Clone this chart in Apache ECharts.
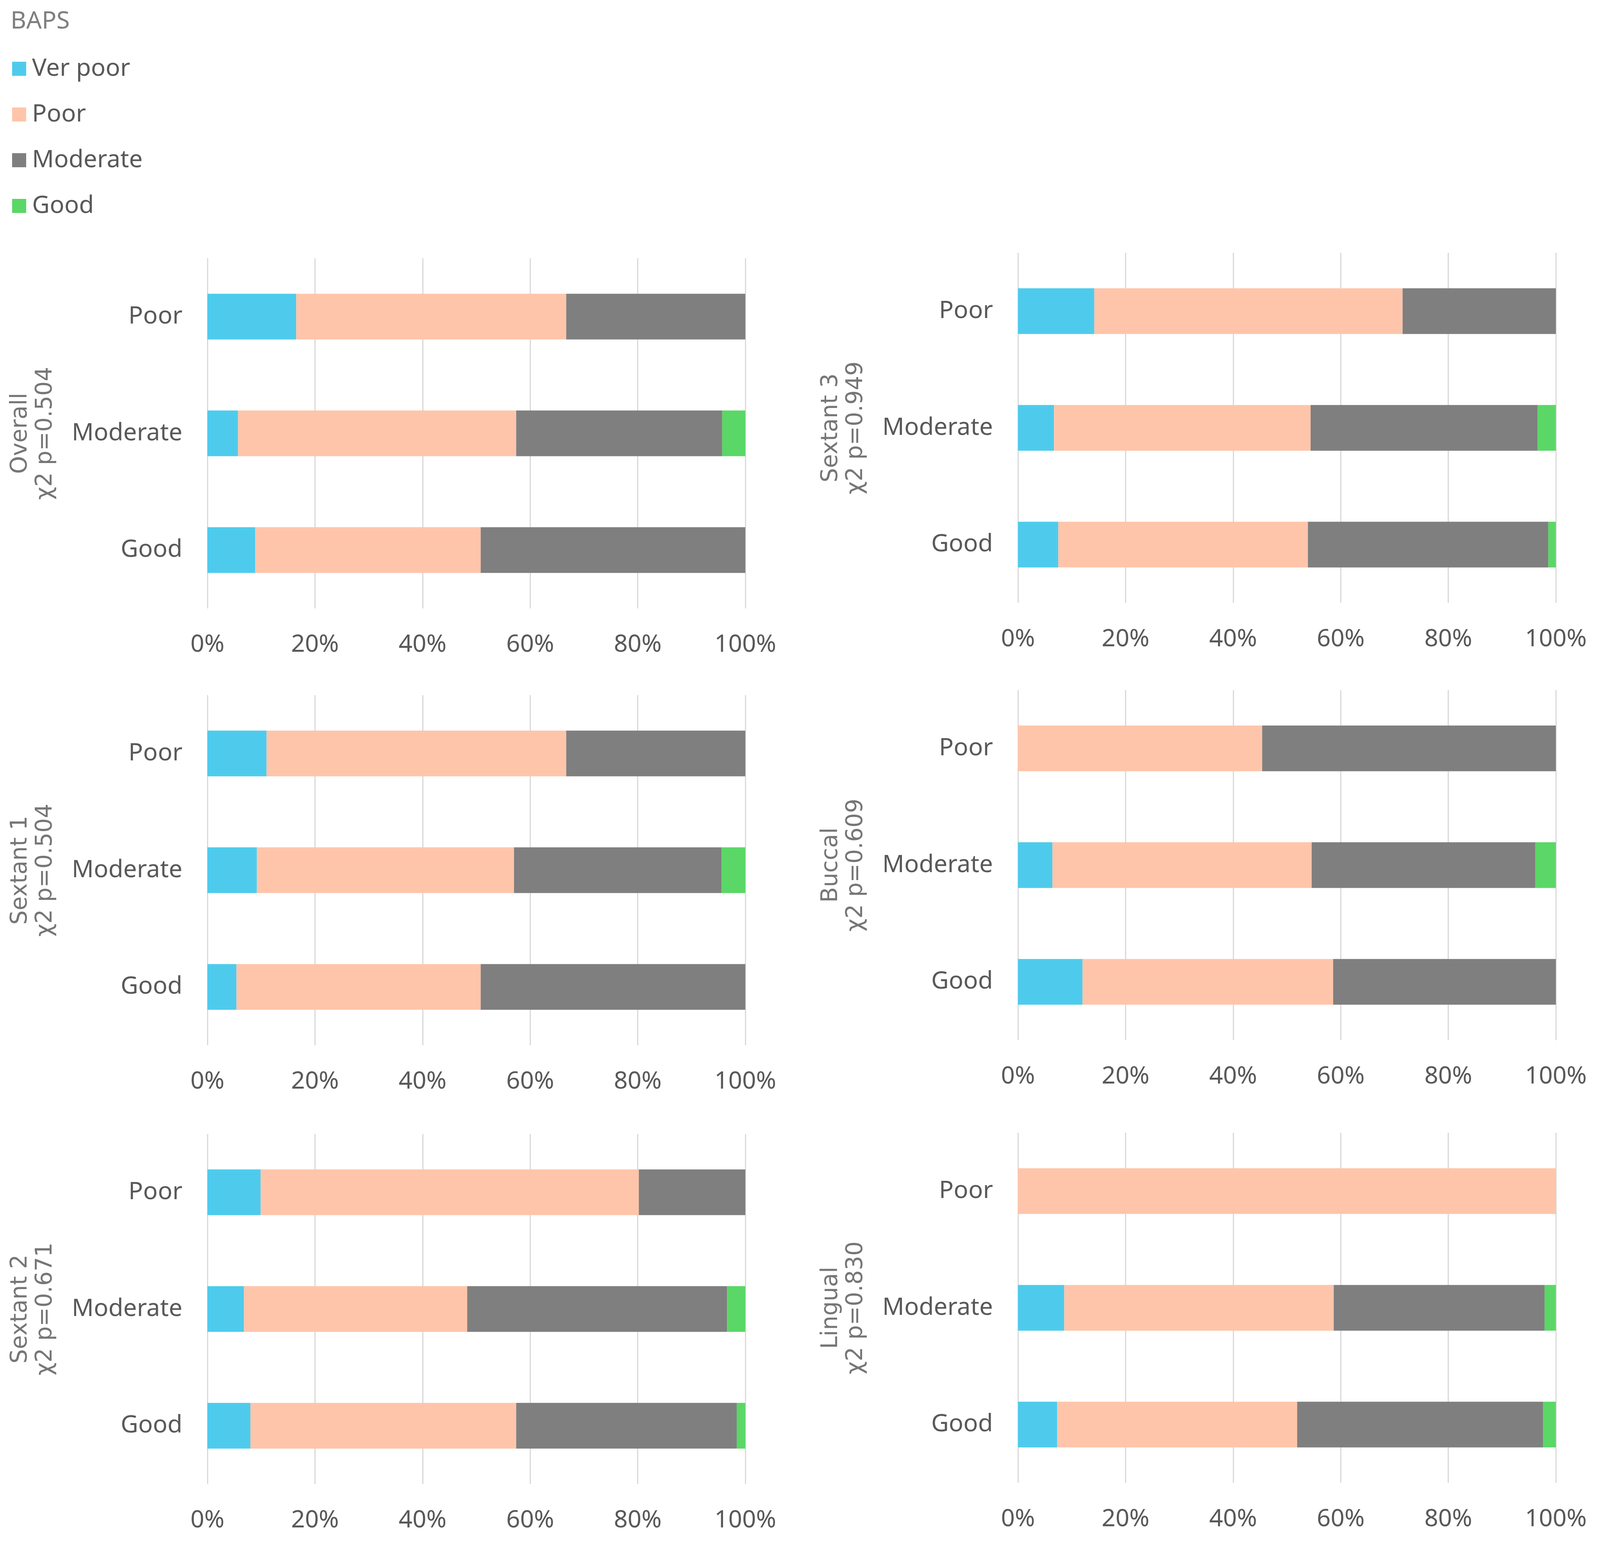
<!DOCTYPE html>
<html>
<head>
<meta charset="utf-8">
<script src="https://cdn.jsdelivr.net/npm/echarts@6/dist/echarts.min.js"></script>
<style>
html,body{margin:0;padding:0;background:#fff;}
#c{width:4117px;height:3977px;}
</style>
</head>
<body>
<div id="c"></div>
<script>
// ---- data ----
const categories = ['Poor', 'Moderate', 'Good'];
const levels = ['Ver poor', 'Poor', 'Moderate', 'Good'];
const legendTitle = 'BAPS';
const xTicks = [0, 20, 40, 60, 80, 100];
const panelTitles = ['Overall\nχ2 p=0.504', 'Sextant 3\nχ2 p=0.949', 'Sextant 1\nχ2 p=0.504', 'Buccal\nχ2 p=0.609', 'Sextant 2\nχ2 p=0.671', 'Lingual\nχ2 p=0.830'];

// values per category [Poor, Moderate, Good], in %
const overallVerPoor = [16.5, 5.7, 8.9];
const overallPoor = [50.2, 51.7, 41.9];
const overallModerate = [33.3, 38.3, 49.2];
const overallGood = [0, 4.3, 0];

const sextant3VerPoor = [14.2, 6.7, 7.5];
const sextant3Poor = [57.3, 47.7, 46.4];
const sextant3Moderate = [28.5, 42.2, 44.7];
const sextant3Good = [0, 3.4, 1.4];

const sextant1VerPoor = [11.0, 9.2, 5.4];
const sextant1Poor = [55.7, 47.8, 45.4];
const sextant1Moderate = [33.3, 38.6, 49.2];
const sextant1Good = [0, 4.4, 0];

const buccalVerPoor = [0, 6.4, 12.0];
const buccalPoor = [45.4, 48.2, 46.6];
const buccalModerate = [54.6, 41.6, 41.4];
const buccalGood = [0, 3.8, 0];

const sextant2VerPoor = [9.9, 6.8, 8.0];
const sextant2Poor = [70.3, 41.5, 49.4];
const sextant2Moderate = [19.8, 48.3, 41.0];
const sextant2Good = [0, 3.4, 1.6];

const lingualVerPoor = [0, 8.6, 7.3];
const lingualPoor = [100, 50.1, 44.6];
const lingualModerate = [0, 39.2, 45.7];
const lingualGood = [0, 2.1, 2.4];

const panelData = [
  [overallVerPoor, overallPoor, overallModerate, overallGood],
  [sextant3VerPoor, sextant3Poor, sextant3Moderate, sextant3Good],
  [sextant1VerPoor, sextant1Poor, sextant1Moderate, sextant1Good],
  [buccalVerPoor, buccalPoor, buccalModerate, buccalGood],
  [sextant2VerPoor, sextant2Poor, sextant2Moderate, sextant2Good],
  [lingualVerPoor, lingualPoor, lingualModerate, lingualGood]
];

// ---- style / layout ----
const colors = ['#4ECBEC', '#FFC5AA', '#7F7F7F', '#5AD766'];
const gridPos = [
  {left: 531, top: 661, width: 1377, height: 896},
  {left: 2606, top: 647, width: 1377, height: 896},
  {left: 531, top: 1779, width: 1377, height: 896},
  {left: 2606, top: 1766, width: 1377, height: 896},
  {left: 531, top: 2902, width: 1377, height: 896},
  {left: 2606, top: 2899, width: 1377, height: 896}
];
const FONT = '"Noto Sans", "Liberation Sans", sans-serif';

const grids = [], xAxes = [], yAxes = [], series = [];
panelData.forEach((pd, i) => {
  grids.push(Object.assign({containLabel: false}, gridPos[i]));
  xAxes.push({
    type: 'value', gridIndex: i, min: xTicks[0], max: xTicks[xTicks.length - 1], interval: xTicks[1] - xTicks[0],
    axisLine: {show: false}, axisTick: {show: false},
    splitLine: {show: true, lineStyle: {color: '#D9D9D9', width: 3}},
    axisLabel: {formatter: '{value}%', color: '#595959', fontSize: 62, fontFamily: FONT, margin: 62}
  });
  yAxes.push({
    type: 'category', gridIndex: i, data: categories, inverse: true,
    axisLine: {show: false}, axisTick: {show: false},
    axisLabel: {color: '#595959', fontSize: 62, fontFamily: FONT, margin: 64},
    name: panelTitles[i], nameLocation: 'middle', nameGap: 382, nameRotate: 90,
    nameTextStyle: {color: '#767676', fontSize: 58, fontFamily: '"DejaVu Sans", sans-serif', lineHeight: 64, align: 'center'}
  });
  pd.forEach((vals, k) => {
    series.push({
      type: 'bar', name: levels[k], stack: 's' + i, xAxisIndex: i, yAxisIndex: i,
      data: vals, barWidth: 117, itemStyle: {color: colors[k]}, emphasis: {disabled: true}
    });
  });
});

const chart = echarts.init(document.getElementById('c'), null, {renderer: 'canvas'});
chart.setOption({
  backgroundColor: '#fff',
  animation: false,
  title: {text: legendTitle, left: 22, top: 19, textStyle: {color: '#7F7F7F', fontSize: 62, fontWeight: 'normal', fontFamily: FONT}},
  legend: {
    data: levels, orient: 'vertical', left: 26, top: 140, itemWidth: 36, itemHeight: 36, itemGap: 55,
    icon: 'rect', selectedMode: false,
    textStyle: {color: '#595959', fontSize: 62, fontFamily: FONT, padding: [0, 0, 0, 10]}
  },
  grid: grids, xAxis: xAxes, yAxis: yAxes, series: series
});
</script>
</body>
</html>
